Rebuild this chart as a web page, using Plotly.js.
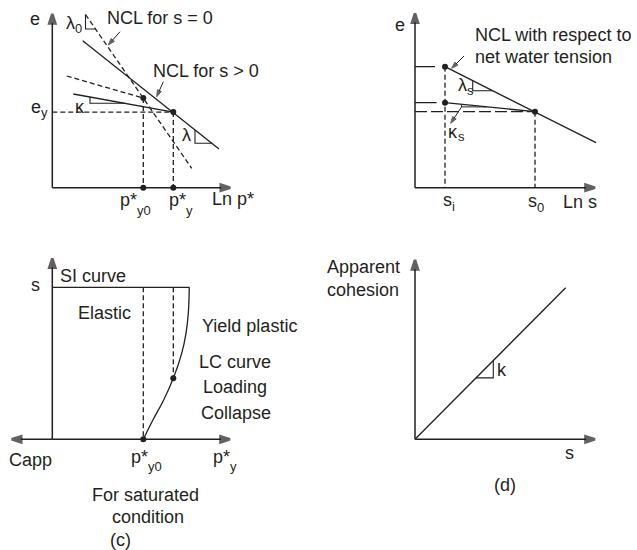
<!DOCTYPE html>
<html>
<head>
<meta charset="utf-8">
<script src="https://cdn.plot.ly/plotly-3.0.1.min.js"></script>
<style>
  html, body { margin: 0; padding: 0; background: #fff; }
  #chart { width: 637px; height: 550px; }
</style>
</head>
<body>
<div id="chart"></div>
<script>
// ---------- (a) e – ln p* plane ----------
const aNclSatX = [1.66, 6.97];          // NCL for s = 0 (dashed)
const aNclSatY = [8.66, 0.97];
const aNclX = [1.52, 8.335];            // NCL for s > 0 (solid)
const aNclY = [7.35, 1.935];
const aKappaSatX = [0.72, 4.55];        // unloading line, s = 0 (dashed)
const aKappaSatY = [5.585, 4.48];
const aKappaX = [1.05, 6.05];           // unloading line, s > 0 (solid)
const aKappaY = [4.685, 3.78];
const aYieldX = [4.55, 6.05];           // p*y0 , p*y
const aYieldY = [4.48, 3.78];
const aLambda0TriX = [1.66, 1.66, 2.16];
const aLambda0TriY = [8.66, 7.935, 7.935];
const aKappaTriX = [1.885, 1.885, 3.62];
const aKappaTriY = [4.534, 4.22, 4.22];
const aLambdaTriX = [7.135, 7.135, 7.976];
const aLambdaTriY = [2.888, 2.22, 2.22];

// ---------- (b) e – ln s plane ----------
const bNclX = [1.5, 9.05];              // NCL w.r.t. net water tension
const bNclY = [6.05, 2.25];
const bKappaX = [1.5, 6.0];
const bKappaY = [4.25, 3.8];
const bPointX = [1.5, 1.5, 6.0];        // si (upper), si (lower), s0
const bPointY = [6.05, 4.25, 3.8];
const bTickLen = [1.0, 1.08];           // short marks on e axis
const bLambdaTriX = [2.885, 2.885, 3.884];
const bLambdaTriY = [5.353, 4.85, 4.85];
const bKappaTriX = [2.33, 2.33, 3.6];
const bKappaTriY = [4.167, 4.04, 4.04];

// ---------- (c) s – p*y plane ----------
const cSiLevel = 7.6;
const cSiEnd = 6.85;
const cLcX = [4.55, 5.05, 5.55, 6.05, 6.47, 6.685, 6.8, 6.85];   // LC curve
const cLcY = [0.0, 1.0, 1.93, 3.05, 4.3, 5.3, 6.3, 7.6];
const cPointX = [4.55, 6.05];
const cPointY = [0.0, 3.05];

// ---------- (d) apparent cohesion – s ----------
const dLineX = [0, 7.535];
const dLineY = [0, 7.58];
const dTriX = [3.05, 3.915, 3.915];
const dTriY = [3.07, 3.07, 3.94];

// ---------- drawing helpers ----------
const INK = '#231f20';
const FONT = 'Liberation Sans, Arial, sans-serif';
const FS = 18;
const FS_SUB = 13;
const traces = [];
function ref(ax) { return ax === 1 ? '' : String(ax); }
function seg(x, y, ax, opt) {
  opt = opt || {};
  traces.push({
    type: 'scatter', mode: 'lines', x: x, y: y,
    xaxis: 'x' + ref(ax), yaxis: 'y' + ref(ax),
    line: { color: INK, width: opt.w || 1.3, dash: opt.dash || 'solid', shape: opt.shape || 'linear', smoothing: opt.smoothing || 1 },
    hoverinfo: 'skip', cliponaxis: false
  });
}
function dots(x, y, ax) {
  traces.push({
    type: 'scatter', mode: 'markers', x: x, y: y,
    xaxis: 'x' + ref(ax), yaxis: 'y' + ref(ax),
    marker: { color: INK, size: 6 }, hoverinfo: 'skip', cliponaxis: false
  });
}
// line from (x0,y0) to (x1,y1) ending in an arrow head
function arrow(ax, x0, y0, x1, y1, opt) {
  opt = opt || {};
  traces.push({
    type: 'scatter', mode: 'lines+markers', x: [x0, x1], y: [y0, y1],
    xaxis: 'x' + ref(ax), yaxis: 'y' + ref(ax),
    line: { color: INK, width: opt.w || 1, backoff: 'auto' },
    marker: {
      symbol: 'arrow', size: [0, opt.size || 7], angleref: 'previous', color: INK,
      line: { width: opt.edge || 1, color: INK }
    },
    hoverinfo: 'skip', cliponaxis: false
  });
}
const AX = { size: 10, w: 1.5, edge: 2.6 };
const DASH = '5px,3px';
const LONGDASH = '12px,4px';

const annotations = [];
function label(ax, x, y, text, opt) {
  opt = opt || {};
  annotations.push({
    xref: 'x' + ref(ax), yref: 'y' + ref(ax), x: x, y: y, text: text,
    showarrow: false, xanchor: opt.xanchor || 'center', yanchor: opt.yanchor || 'middle',
    align: opt.align || 'center', borderpad: 0, borderwidth: 0,
    font: { family: FONT, size: opt.size || FS, color: INK }
  });
}
// symbol with a lowered, smaller index placed right after it (joint at x)
function indexed(ax, x, y, main, sub, ySub) {
  label(ax, x, y, main, { xanchor: 'right' });
  label(ax, x, ySub, sub, { xanchor: 'left', size: FS_SUB });
}

// ---------- panel (a) ----------
arrow(1, 0, 0, 0, 8.685, AX);
arrow(1, 0, 0, 8.9, 0, AX);
seg(aNclSatX, aNclSatY, 1, { dash: DASH });
seg(aNclX, aNclY, 1);
seg(aKappaSatX, aKappaSatY, 1, { dash: DASH });
seg(aKappaX, aKappaY, 1);
seg([0, aYieldX[1]], [aYieldY[1], aYieldY[1]], 1, { dash: DASH });
seg([aYieldX[0], aYieldX[0]], [aYieldY[0], 0], 1, { dash: DASH });
seg([aYieldX[1], aYieldX[1]], [aYieldY[1], 0], 1, { dash: DASH });
seg(aLambda0TriX, aLambda0TriY, 1, { w: 1.1 });
seg(aKappaTriX, aKappaTriY, 1, { w: 1.1 });
seg(aLambdaTriX, aLambdaTriY, 1, { w: 1.1 });
dots(aYieldX, aYieldY, 1);
dots(aYieldX, [0, 0], 1);
label(1, -0.865, 8.42, 'e');
indexed(1, 1.135, 8.25, 'λ', '0', 7.98);
label(1, 5.385, 8.47, 'NCL for s = 0');
arrow(1, 3.385, 7.8, 2.8, 7.135);
label(1, 7.67, 5.835, 'NCL for s > 0');
arrow(1, 5.55, 5.3, 5.22, 4.55);
label(1, 1.385, 4.05, 'κ');
indexed(1, -0.565, 4.05, 'e', 'y', 3.75);
label(1, 6.72, 2.635, 'λ');
indexed(1, 4.21, -0.62, 'p*', 'y0', -1.12);
indexed(1, 6.66, -0.62, 'p*', 'y', -1.12);
label(1, 9.05, -0.55, 'Ln p*');
label(1, 4.47, -2.165, '(a)');

// ---------- panel (b) ----------
arrow(2, 0, 0, 0, 8.72, AX);
arrow(2, 0, 0, 9.0, 0, AX);
seg(bNclX, bNclY, 2);
seg(bKappaX, bKappaY, 2);
seg([0, bTickLen[0]], [bPointY[0], bPointY[0]], 2);
seg([0, bTickLen[1]], [bPointY[1], bPointY[1]], 2);
seg([0, bPointX[2]], [bPointY[2], bPointY[2]], 2, { dash: LONGDASH });
seg([bPointX[0], bPointX[0]], [bPointY[0], 0], 2, { dash: DASH });
seg([bPointX[2], bPointX[2]], [bPointY[2], 0], 2, { dash: DASH });
seg(bLambdaTriX, bLambdaTriY, 2, { w: 1.1 });
seg(bKappaTriX, bKappaTriY, 2, { w: 1.0 });
dots(bPointX, bPointY, 2);
label(2, -0.75, 8.135, 'e');
label(2, 3.0, 7.635, 'NCL with respect to', { xanchor: 'left' });
label(2, 3.0, 6.55, 'net water tension', { xanchor: 'left' });
arrow(2, 2.45, 6.585, 1.835, 5.97);
indexed(2, 2.58, 5.15, 'λ', 's', 4.87);
arrow(2, 2.335, 4.05, 1.785, 3.22);
indexed(2, 2.165, 2.8, 'κ', 's', 2.55);
indexed(2, 1.835, -0.6, 's', 'i', -0.95);
indexed(2, 6.1, -0.65, 's', '0', -1.0);
label(2, 8.25, -0.7, 'Ln s');
label(2, 4.5, -2.2, '(b)');

// ---------- panel (c) ----------
arrow(3, 0, 0, 0, 9.05, AX);
arrow(3, 0, 0, -2.03, 0, AX);
arrow(3, 0, 0, 8.885, 0, AX);
seg([0, cSiEnd], [cSiLevel, cSiLevel], 3);
seg(cLcX, cLcY, 3, { shape: 'spline', smoothing: 1 });
seg([cPointX[0], cPointX[0]], [cSiLevel, 0], 3, { dash: DASH });
seg([cPointX[1], cPointX[1]], [cSiLevel, cPointY[1]], 3, { dash: DASH });
dots(cPointX, cPointY, 3);
label(3, -0.865, 7.715, 's');
label(3, 0.385, 8.165, 'SI curve', { xanchor: 'left' });
label(3, 2.6, 6.3, 'Elastic');
label(3, 9.835, 5.68, 'Yield plastic');
label(3, 9.135, 3.85, 'LC curve');
label(3, 9.15, 2.6, 'Loading');
label(3, 9.2, 1.33, 'Collapse');
label(3, -1.08, -1.035, 'Capp');
indexed(3, 4.8, -0.9, 'p*', 'y0', -1.35);
indexed(3, 8.885, -0.9, 'p*', 'y', -1.35);
label(3, 4.635, -2.785, 'For saturated');
label(3, 4.77, -3.9, 'condition');
label(3, 3.42, -5.035, '(c)');

// ---------- panel (d) ----------
arrow(4, 0, 0, 0, 8.965, AX);
arrow(4, 0, 0, 9.0, 0, AX);
seg(dLineX, dLineY, 4);
seg(dTriX, dTriY, 4, { w: 1.1 });
label(4, -4.385, 8.6, 'Apparent', { xanchor: 'left' });
label(4, -4.385, 7.465, 'cohesion', { xanchor: 'left' });
label(4, 4.335, 3.465, 'k');
label(4, 7.715, -0.7, 's');
label(4, 4.5, -2.285, '(d)');

// ---------- layout: four panels, each in its own coordinate frame ----------
const split = 320 / 550;
function hidden(domain, range, anchor) {
  return { domain: domain, range: range, anchor: anchor, visible: false, fixedrange: true };
}
const layout = {
  width: 637, height: 550,
  margin: { l: 0, r: 0, t: 0, b: 0 },
  paper_bgcolor: '#ffffff', plot_bgcolor: '#ffffff',
  showlegend: false,
  xaxis:  hidden([0, 0.5], [-2.615, 13.31], 'y'),
  yaxis:  hidden([split, 1], [-2.115, 9.385], 'x'),
  xaxis2: hidden([0.5, 1], [-4.825, 11.1], 'y2'),
  yaxis2: hidden([split, 1], [-2.115, 9.385], 'x2'),
  xaxis3: hidden([0, 0.5], [-2.615, 13.31], 'y3'),
  yaxis3: hidden([0, split], [-5.535, 10.465], 'x3'),
  xaxis4: hidden([0.5, 1], [-4.825, 11.1], 'y4'),
  yaxis4: hidden([0, split], [-5.535, 10.465], 'x4'),
  annotations: annotations
};
Plotly.newPlot('chart', traces, layout, { staticPlot: true, displayModeBar: false });
</script>
</body>
</html>
